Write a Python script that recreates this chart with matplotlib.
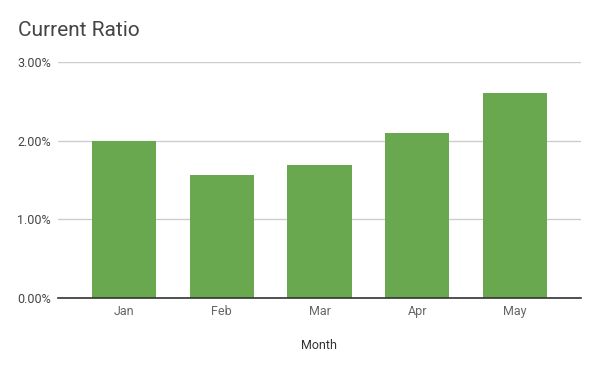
import matplotlib
matplotlib.use("Agg")
import matplotlib.pyplot as plt
from matplotlib.ticker import FuncFormatter

months = ["Jan", "Feb", "Mar", "Apr", "May"]
ratio = [2.00, 1.56, 1.69, 2.10, 2.60]
yticks = [0, 1, 2, 3]

plt.rcParams['font.family'] = ['Roboto', 'DejaVu Sans']
fig = plt.figure(figsize=(6, 3.71), dpi=100)
W, H = 600, 371
ax = fig.add_axes([58 / W, 1 - 298 / H, (581 - 58) / W, (298 - 62) / H])

x = list(range(len(months)))
ax.bar(x, ratio, width=0.655, color="#6aa84f", zorder=3)
ax.set_xlim(-0.675, len(months) - 1 + 0.675)
ax.set_ylim(0, 3)
ax.set_yticks(yticks)
ax.yaxis.set_major_formatter(FuncFormatter(lambda v, p: f"{v:.2f}%"))
ax.set_xticks(x)
ax.set_xticklabels(months)
ax.grid(axis="y", color="#cccccc", linewidth=1, zorder=0)
for s in ["top", "right", "left"]:
    ax.spines[s].set_visible(False)
ax.spines["bottom"].set_color("#333333")
ax.spines["bottom"].set_linewidth(1.2)
ax.spines["bottom"].set_zorder(4)
ax.tick_params(axis="both", length=0)
ax.tick_params(axis="y", labelsize=9, labelcolor="#444444", pad=5)
ax.tick_params(axis="x", labelsize=9, labelcolor="#666666", pad=5)
ax.set_xlabel("Month", fontsize=9, color="#333333", labelpad=15)
fig.text(18 / W, 1 - 31 / H, "Current Ratio", fontsize=15, color="#444444", va="center", ha="left")
fig.savefig("out.png", dpi=100)
